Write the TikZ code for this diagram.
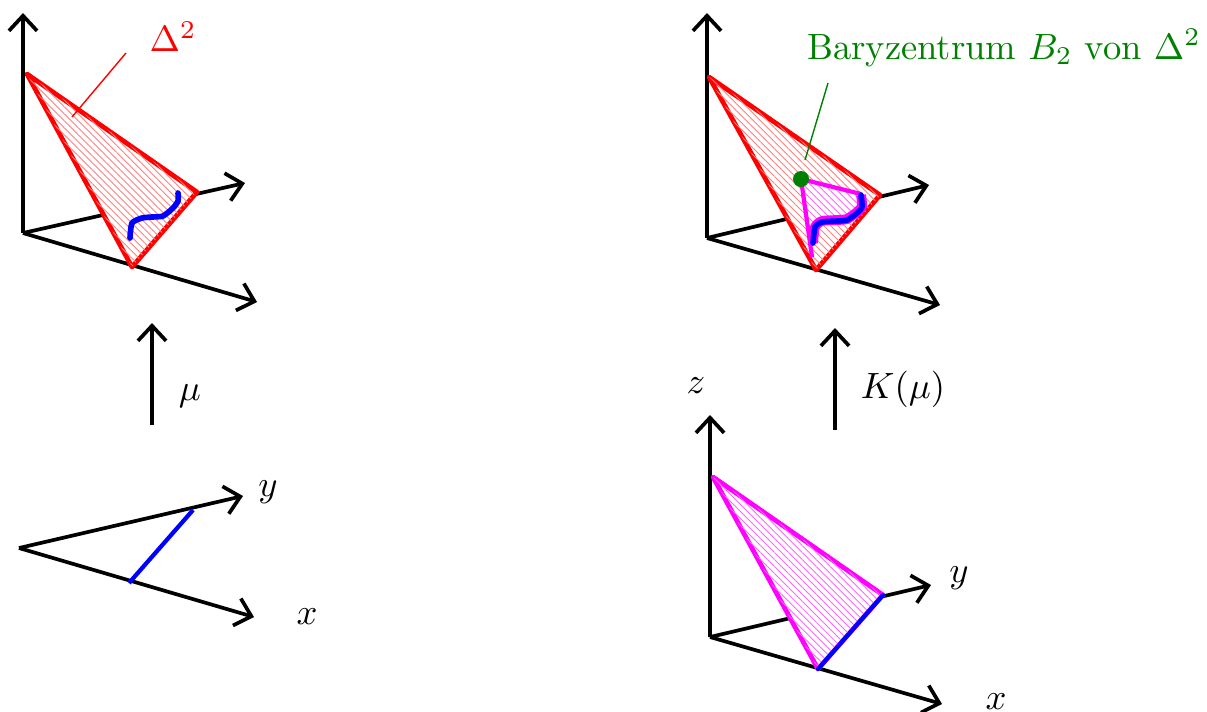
\documentclass[tikz,border=0pt]{standalone}
\usetikzlibrary{arrows.meta,patterns.meta}
\definecolor{mag}{RGB}{255,0,255}
\definecolor{bgreen}{RGB}{0,128,0}
\begin{document}
\begin{tikzpicture}[x=0.01cm,y=-0.01cm,
  axis/.style={line width=1.05pt,-{Straight Barb[length=4.3pt,width=8pt,line width=1.05pt]}},
  mapar/.style={line width=1.05pt,-{Straight Barb[length=4.3pt,width=8pt,line width=1.05pt]}},
  simp/.style={draw=red,line width=1.35pt,line join=round,fill=white,
    postaction={pattern={Lines[angle=-45,distance=1.4pt,line width=0.25pt]},pattern color=red!50}},
  simpm/.style={draw=mag,line width=1.35pt,line join=round,fill=white,
    postaction={pattern={Lines[angle=-45,distance=1.4pt,line width=0.25pt]},pattern color=mag!60}},
  bluecurve/.style={draw=blue,line width=1.6pt,line join=round,line cap=round},
  lbl/.style={inner sep=0pt,scale=1.04}]
\useasboundingbox (0,0) rectangle (1207,711);

% ---------- top left ----------
\coordinate (O1) at (23,233);
\coordinate (Z1) at (23,13);
\coordinate (Y1) at (245,183);
\coordinate (X1) at (257,302);
\coordinate (z1) at (27,74);
\coordinate (y1) at (197,192);
\coordinate (x1) at (132,267);
\draw[axis] (O1) -- (Z1);
\draw[axis] (O1) -- (Y1);
\draw[axis] (O1) -- (X1);
\draw[simp] (z1) -- (y1) -- (x1) -- cycle;
\draw[bluecurve] plot[smooth,tension=0.4] coordinates {(130,238) (132,223) (142,218) (152,217) (163,216) (173,208) (178,201) (178,193)};
\node[lbl,text=red] (D1) at (173,37) {$\Delta^2$};
\coordinate (D1a) at (126,53);
\coordinate (D1b) at (72,117);
\draw[red,line width=0.4pt] (D1a) -- (D1b);

% ---------- arrow mu ----------
\coordinate (M1a) at (152,425);
\coordinate (M1b) at (152,323);
\draw[mapar] (M1a) -- (M1b);
\node[lbl] (mu) at (190,396) {$\mu$};

% ---------- bottom left ----------
\coordinate (O2) at (19,548);
\coordinate (Y2) at (243,496);
\coordinate (X2) at (254,617);
\draw[axis] (O2) -- (Y2);
\draw[axis] (O2) -- (X2);
\coordinate (b2a) at (129,583);
\coordinate (b2b) at (193,510);
\draw[blue,line width=1.2pt] (b2a) -- (b2b);
\node[lbl] (ly2) at (268,492) {$y$};
\node[lbl] (lx2) at (307,617) {$x$};

% ---------- top right ----------
\coordinate (O3) at (707,238);
\coordinate (Z3) at (707,13);
\coordinate (Y3) at (929,185);
\coordinate (X3) at (940,305);
\coordinate (z3) at (709,77);
\coordinate (y3) at (880,195);
\coordinate (x3) at (816,270);
\draw[axis] (O3) -- (Z3);
\draw[axis] (O3) -- (Y3);
\draw[axis] (O3) -- (X3);
\draw[simp] (z3) -- (y3) -- (x3) -- cycle;
\coordinate (B) at (801,179);
\coordinate (m1) at (861,194);
\coordinate (m2) at (812,257);
\path[fill=white] (B) -- (m1) -- (861,196) -- (862,207) -- (857,213) -- (847,220) -- (837,221) -- (822,222) -- (815,227) -- (813,243) -- (m2) -- cycle;
\path[pattern={Lines[angle=-45,distance=1.4pt,line width=0.25pt]},pattern color=mag!60]
  (B) -- (m1) -- (861,196) -- (862,207) -- (857,213) -- (847,220) -- (837,221) -- (822,222) -- (815,227) -- (813,243) -- (m2) -- cycle;
\draw[mag,line width=1.2pt] (B) -- (m1);
\draw[mag,line width=1.2pt] (B) -- (m2);
\draw[mag,line width=2.8pt,line join=round] plot[smooth,tension=0.4] coordinates {(813,243) (815,227) (822,221) (837,220) (847,219) (857,212) (862,206) (861,195)};
\draw[bluecurve] plot[smooth,tension=0.4] coordinates {(813,243) (815,227) (822,222) (837,221) (847,220) (857,213) (862,207) (861,195)};
\fill[bgreen] (B) circle (8);
\node[lbl,text=bgreen] (Bary) at (1004,48) {Baryzentrum $B_2$ von $\Delta^2$};
\coordinate (Ga) at (828,83);
\coordinate (Gb) at (805,160);
\draw[bgreen,line width=0.4pt] (Ga) -- (Gb);

% ---------- arrow K(mu) ----------
\coordinate (M2a) at (835,430);
\coordinate (M2b) at (835,328);
\draw[mapar] (M2a) -- (M2b);
\node[lbl] (Kmu) at (903,389) {$K(\mu)$};

% ---------- bottom right ----------
\coordinate (O4) at (710,637);
\coordinate (Z4) at (710,415);
\coordinate (Y4) at (931,585);
\coordinate (X4) at (942,704);
\coordinate (z4) at (713,477);
\coordinate (y4) at (883,595);
\coordinate (x4) at (818,669);
\draw[axis] (O4) -- (Z4);
\draw[axis] (O4) -- (Y4);
\draw[axis] (O4) -- (X4);
\draw[simpm] (z4) -- (y4) -- (x4) -- cycle;
\draw[blue,line width=1.2pt,line cap=round] (x4) -- (y4);
\node[lbl] (lz4) at (696,386) {$z$};
\node[lbl] (ly4) at (959,578) {$y$};
\node[lbl] (lx4) at (996,702) {$x$};
\end{tikzpicture}
\end{document}
